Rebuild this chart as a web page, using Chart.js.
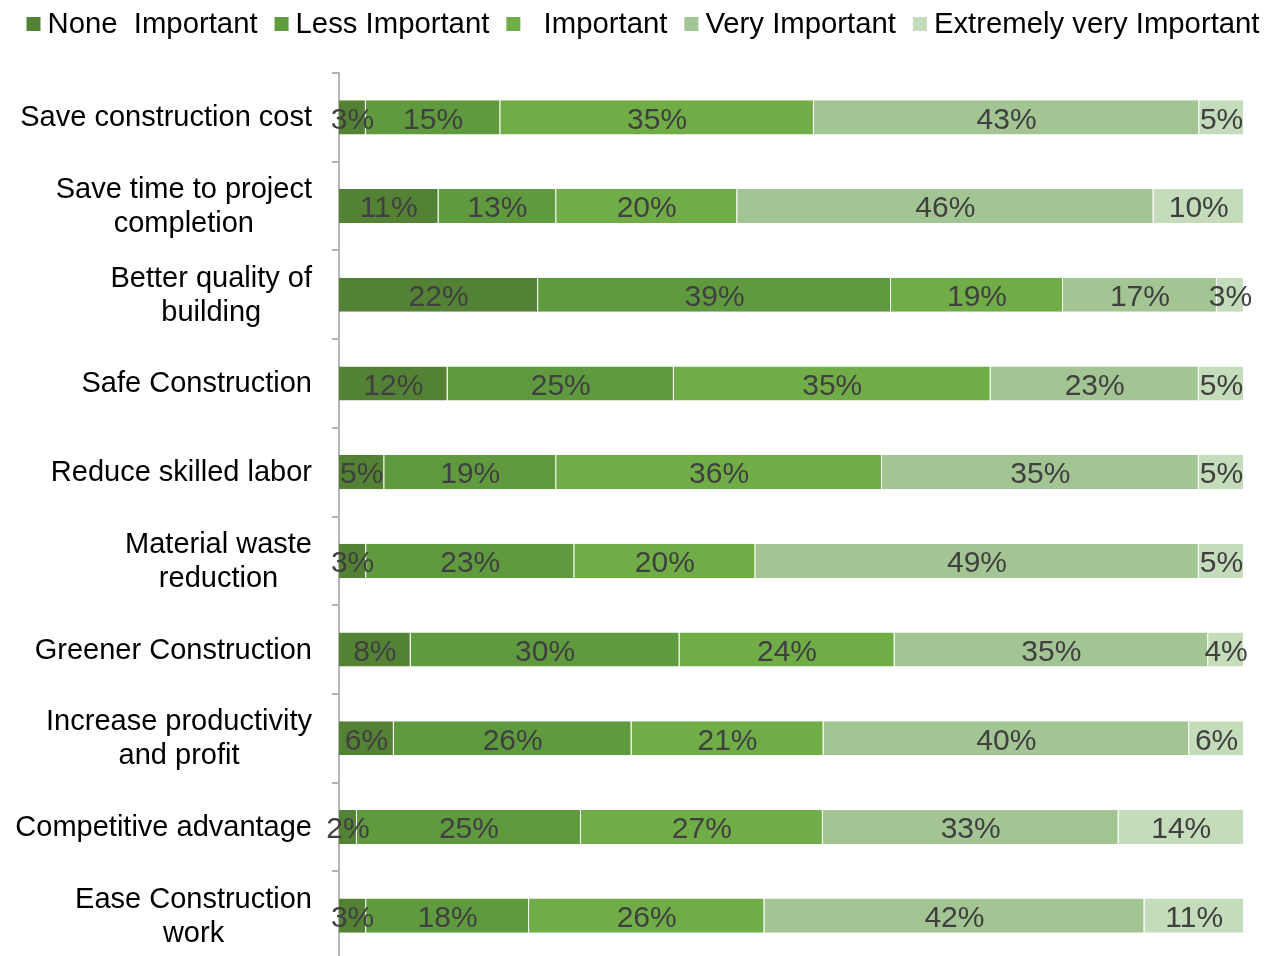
<!DOCTYPE html>
<html>
<head>
<meta charset="utf-8">
<script src="https://cdn.jsdelivr.net/npm/chart.js@4.4.1/dist/chart.umd.min.js"></script>
<style>
    body { margin: 0; overflow: hidden; background: #fff; }
    #wrap { position: relative; width: 1268px; height: 960px; }
</style>
</head>
<body>
<div id="wrap"><canvas id="myChart"></canvas></div>

<script>
    const categories = [
        ["Save construction cost"],
        ["Save time to project", "completion"],
        ["Better quality of", "building"],
        ["Safe Construction"],
        ["Reduce skilled labor"],
        ["Material waste", "reduction"],
        ["Greener Construction"],
        ["Increase productivity", "and profit"],
        ["Competitive advantage"],
        ["Ease Construction", "work"]
    ];
    const seriesNames = ["None  Important", "Less Important", "  Important", "Very Important", "Extremely very Important"];
    const noneImportant      = [3, 11, 22, 12, 5, 3, 8, 6, 2, 3];
    const lessImportant      = [15, 13, 39, 25, 19, 23, 30, 26, 25, 18];
    const important          = [35, 20, 19, 35, 36, 20, 24, 21, 27, 26];
    const veryImportant      = [43, 46, 17, 23, 35, 49, 35, 40, 33, 42];
    const extremelyImportant = [5, 10, 3, 5, 5, 5, 4, 6, 14, 11];
    const colors = ["#548235", "#5f9a3e", "#70ad47", "#a3c593", "#c5dcbb"];

    const FONT = "'Liberation Sans', Arial, sans-serif";
    const series = [noneImportant, lessImportant, important, veryImportant, extremelyImportant];
    // 100% stacked: each row scaled by its own total
    const rowSums = categories.map((c, i) => series.reduce((s, arr) => s + arr[i], 0));

    const datasets = series.map((arr, k) => ({
        label: seriesNames[k],
        data: arr.map((v, i) => v / rowSums[i] * 100),
        raw: arr,
        backgroundColor: colors[k],
        borderColor: "rgba(255,255,255,0.35)",
        borderWidth: { left: 0, right: 1, top: 0, bottom: 0 },
        borderSkipped: false,
        barPercentage: 0.385,
        categoryPercentage: 1
    }));

    const drawLegend = {
        id: "drawLegend",
        afterDraw(chart) {
            const ctx = chart.ctx;
            ctx.save();
            ctx.font = "29.3px " + FONT;
            const widths = seriesNames.map(n => ctx.measureText(n).width);
            const total = widths.reduce((a, w) => a + 14 + 7 + w, 0) + 17 * (seriesNames.length - 1);
            let x = (chart.width - total) / 2 + 9;
            const y = 24;
            ctx.textBaseline = "middle";
            ctx.textAlign = "left";
            seriesNames.forEach((n, k) => {
                ctx.fillStyle = colors[k];
                ctx.fillRect(x, y - 7, 14, 14);
                ctx.fillStyle = "#000";
                ctx.fillText(n, x + 21, y + 1);
                x += 21 + widths[k] + 17;
            });
            ctx.restore();
        }
    };

    const drawLabels = {
        id: "drawLabels",
        afterDraw(chart) {
            const ctx = chart.ctx;
            ctx.save();
            // category labels, lines centered on each other
            const yScale = chart.scales.y;
            ctx.font = "29px " + FONT;
            ctx.fillStyle = "#000";
            ctx.textAlign = "center";
            ctx.textBaseline = "middle";
            categories.forEach((lines, i) => {
                const w = Math.max(...lines.map(l => ctx.measureText(l).width));
                const cx = 312 - w / 2;
                const cy = yScale.getPixelForValue(i);
                lines.forEach((l, j) => {
                    ctx.fillText(l, cx, cy + (j - (lines.length - 1) / 2) * 34 + 1);
                });
            });
            // values inside segments
            ctx.font = "30px " + FONT;
            ctx.fillStyle = "#404040";
            chart.data.datasets.forEach((ds, k) => {
                chart.getDatasetMeta(k).data.forEach((bar, i) => {
                    const cx = (bar.x + bar.base) / 2;
                    ctx.fillText(ds.raw[i] + "%", cx, bar.y + 3);
                });
            });
            ctx.restore();
        }
    };

    const myChart = new Chart("myChart", {
        type: "bar",
        data: {
            labels: categories,
            datasets: datasets
        },
        options: {
            indexAxis: "y",
            responsive: true,
            maintainAspectRatio: false,
            animation: false,
            layout: { padding: { top: 73, right: 24, left: 0, bottom: 0 } },
            plugins: {
                legend: { display: false },
                tooltip: { enabled: false }
            },
            scales: {
                x: {
                    stacked: true,
                    min: 0,
                    max: 100,
                    display: false
                },
                y: {
                    stacked: true,
                    afterFit(scale) { scale.width = 339; },
                    border: { display: true, color: "#b5b5b5", width: 2 },
                    grid: {
                        offset: true,
                        drawOnChartArea: false,
                        drawTicks: true,
                        tickLength: 7,
                        color: "#b5b5b5",
                        lineWidth: 2
                    },
                    ticks: { display: false }
                }
            }
        },
        plugins: [drawLegend, drawLabels]
    });
</script>
</body>
</html>
